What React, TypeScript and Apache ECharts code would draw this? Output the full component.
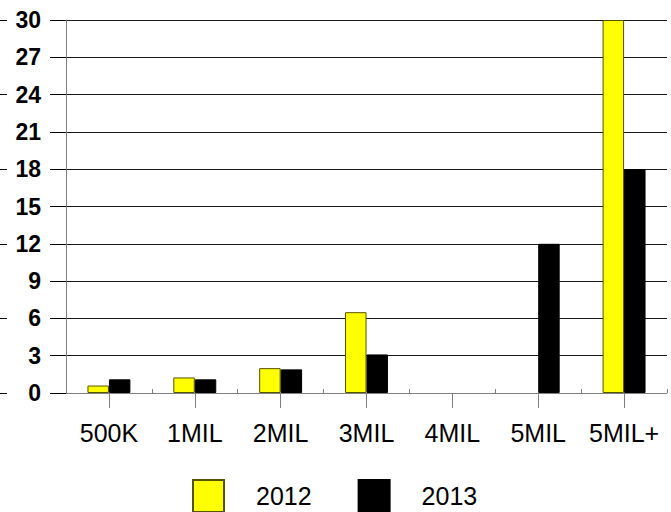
import React, { useEffect, useRef } from "react";
import * as echarts from "echarts";

const categories = ["500K", "1MIL", "2MIL", "3MIL", "4MIL", "5MIL", "5MIL+"];
const values2012 = [0.6, 1.25, 2.0, 6.5, 0, 0, 30];
const values2013 = [1.1, 1.1, 1.9, 3.1, 0, 12, 18];
const seriesNames = ["2012", "2013"];

const FONT = "Arial, 'Liberation Sans', sans-serif";

const toData = (vals: number[], bw: number) =>
  vals.map((v) => ({ value: v, itemStyle: { borderWidth: v === 0 ? 0 : bw } }));

export default function App() {
  const ref = useRef<HTMLDivElement>(null);
  useEffect(() => {
    document.body.style.margin = "0";
    if (!ref.current) return;
    const chart = echarts.init(ref.current, null, { renderer: "svg" });
    chart.setOption({
      animation: false,
      backgroundColor: "#fff",
      grid: { left: 66, right: 4, top: 20, bottom: 119, containLabel: false },
      legend: {
        left: 192,
        top: 479,
        padding: 0,
        itemWidth: 31,
        itemHeight: 32,
        itemGap: 46,
        icon: "rect",
        textStyle: {
          fontFamily: FONT,
          fontSize: 25,
          color: "#000",
          padding: [0, 0, 0, 27],
        },
        data: seriesNames,
      },
      xAxis: [
        {
          type: "category",
          data: categories,
          axisLine: { show: true, lineStyle: { color: "#808080", width: 1 } },
          axisTick: { show: true, alignWithLabel: true, length: 15, lineStyle: { color: "#808080" } },
          axisLabel: { fontFamily: FONT, fontSize: 25, color: "#000", margin: 27, interval: 0 },
          splitLine: { show: false },
        },
        {
          type: "category",
          data: categories,
          position: "bottom",
          axisLine: { show: false },
          axisTick: { show: true, inside: true, length: 4, lineStyle: { color: "#808080" } },
          axisLabel: { show: false },
          splitLine: { show: false },
        },
      ],
      yAxis: [
        {
          type: "value",
          min: 0,
          max: 30,
          interval: 3,
          axisLine: { show: true, lineStyle: { color: "#808080", width: 1 } },
          axisTick: { show: true, length: 16, lineStyle: { color: "#000" } },
          axisLabel: { fontFamily: FONT, fontSize: 23, fontWeight: "bold", color: "#000", margin: 25 },
          splitLine: { show: true, lineStyle: { color: "#1a1a1a", width: 1 } },
        },
        {
          type: "value",
          min: 0,
          max: 30,
          interval: 6,
          position: "left",
          offset: 59,
          axisLine: { show: false },
          axisTick: { show: true, length: 7, lineStyle: { color: "#000" } },
          axisLabel: { show: false },
          splitLine: { show: false },
        },
      ],
      series: [
        {
          name: seriesNames[0],
          type: "bar",
          data: toData(values2012, 1),
          barGap: "0%",
          barCategoryGap: "50%",
          itemStyle: { color: "#ffff00", borderColor: "#555500", borderWidth: 1 },
        },
        {
          name: seriesNames[1],
          type: "bar",
          data: toData(values2013, 1),
          barGap: "0%",
          barCategoryGap: "50%",
          itemStyle: { color: "#000", borderColor: "#000", borderWidth: 1 },
        },
      ],
    });
    return () => chart.dispose();
  }, []);
  return <div ref={ref} style={{ width: 671, height: 512 }} />;
}
